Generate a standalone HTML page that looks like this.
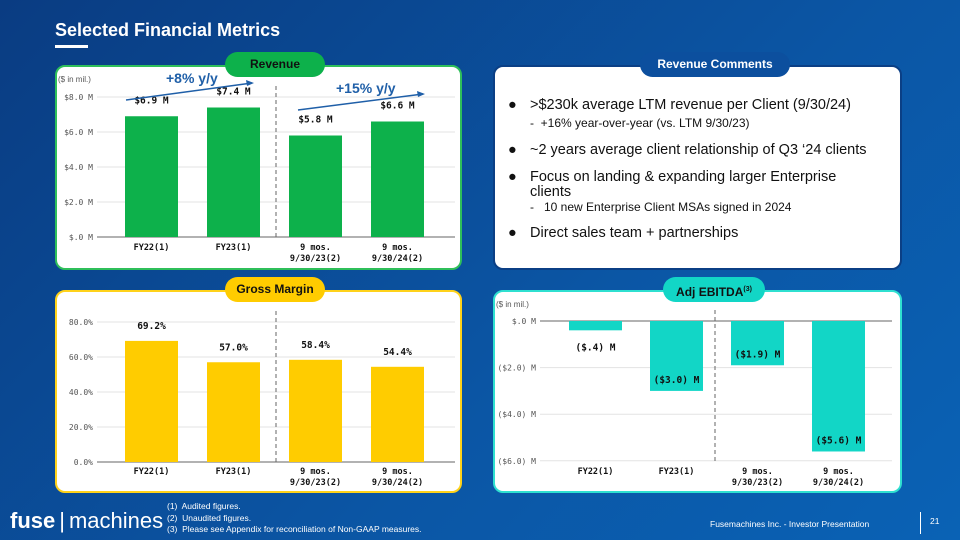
<!DOCTYPE html>
<html><head><meta charset="utf-8">
<style>
*{margin:0;padding:0;box-sizing:border-box}
body{width:960px;height:540px;overflow:hidden;font-family:"Liberation Sans",sans-serif;background:linear-gradient(135deg,#0a3c82 0%,#0b56a5 60%,#0a62b5 100%);position:relative}
.abs{position:absolute}
.panel{position:absolute;background:#fff;border-radius:10px}
.pill{position:absolute;border-radius:13px;font-weight:bold;font-size:12px;text-align:center;line-height:25px;z-index:3}
.mono{font-family:"DejaVu Sans Mono","Liberation Mono",monospace}
.sans{font-family:"Liberation Sans",sans-serif}
.ln{position:absolute;white-space:nowrap;color:#111;z-index:3;line-height:16px}
.big{font-size:14.5px}
.sm{font-size:12px}
</style></head><body>
<div class="abs" style="left:55px;top:20px;color:#fff;font-weight:bold;font-size:18px">Selected Financial Metrics</div>
<div class="abs" style="left:55px;top:45px;width:33px;height:3px;background:#fff"></div>

<div class="panel" style="left:55px;top:65px;width:407px;height:205px;border:2px solid #2fbf5a"></div>
<div class="panel" style="left:493px;top:65px;width:409px;height:205px;border:2px solid #0b3f85"></div>
<div class="panel" style="left:55px;top:290px;width:407px;height:203px;border:2px solid #ffd21a"></div>
<div class="panel" style="left:493px;top:290px;width:409px;height:203px;border:2px solid #2fe0d0"></div>

<div class="pill" style="left:225px;top:52px;width:100px;height:25px;background:#0db14b;color:#111">Revenue</div>
<div class="pill" style="left:640px;top:52px;width:150px;height:25px;background:#0c4f9e;color:#fff">Revenue Comments</div>
<div class="pill" style="left:225px;top:277px;width:100px;height:25px;background:#ffcc00;color:#111">Gross Margin</div>
<div class="pill" style="left:663px;top:277px;width:102px;height:25px;background:#12d6c6;color:#111">Adj EBITDA<sup style="font-size:7px">(3)</sup></div>

<div>
<div class="ln big" style="left:508px;top:97px">●</div><div class="ln big" style="left:530px;top:97px">&gt;$230k average LTM revenue per Client (9/30/24)</div>
<div class="ln sm" style="left:530px;top:115px">- &nbsp;+16% year-over-year (vs. LTM 9/30/23)</div>
<div class="ln big" style="left:508px;top:142px">●</div><div class="ln big" style="left:530px;top:142px">~2 years average client relationship of Q3 ‘24 clients</div>
<div class="ln big" style="left:508px;top:169px">●</div><div class="ln big" style="left:530px;top:169px">Focus on landing &amp; expanding larger Enterprise</div>
<div class="ln big" style="left:530px;top:184px">clients</div>
<div class="ln sm" style="left:530px;top:199px">- &nbsp;&nbsp;10 new Enterprise Client MSAs signed in 2024</div>
<div class="ln big" style="left:508px;top:225px">●</div><div class="ln big" style="left:530px;top:225px">Direct sales team + partnerships</div>
</div>

<svg class="abs" style="left:0;top:0;z-index:2" width="960" height="540" id="charts"></svg>

<div class="abs" style="left:10px;top:508px;color:#fff;font-size:22px;line-height:26px"><b>fuse</b><span style="font-weight:300;margin:0 4px">|</span>machines</div>
<div class="abs" style="left:167px;top:501px;color:#fff;font-size:8.5px;line-height:11.5px">(1)&nbsp; Audited figures.<br>(2)&nbsp; Unaudited figures.<br>(3)&nbsp; Please see Appendix for reconciliation of Non-GAAP measures.</div>
<div class="abs" style="left:710px;top:519px;color:#fff;font-size:8.5px">Fusemachines Inc. - Investor Presentation</div>
<div class="abs" style="left:920px;top:512px;width:1px;height:22px;background:#fff"></div>
<div class="abs" style="left:930px;top:516px;color:#fff;font-size:8.5px">21</div>

<script>
const categories=["FY22(1)","FY23(1)","9 mos.|9/30/23(2)","9 mos.|9/30/24(2)"];
const revenueValues=[6.9,7.4,5.8,6.6];
const revenueLabels=["$6.9 M","$7.4 M","$5.8 M","$6.6 M"];
const revenueTicks=[0,2,4,6,8];
const marginValues=[69.2,57.0,58.4,54.4];
const marginLabels=["69.2%","57.0%","58.4%","54.4%"];
const marginTicks=[0,20,40,60,80];
const ebitdaValues=[-0.4,-3.0,-1.9,-5.6];
const ebitdaLabels=["($.4) M","($3.0) M","($1.9) M","($5.6) M"];
const ebitdaTicks=[0,-2,-4,-6];

const svg=document.getElementById('charts');
const NS='http://www.w3.org/2000/svg';
function mk(tag,attrs,txt,cls){const e=document.createElementNS(NS,tag);for(const k in attrs)e.setAttribute(k,attrs[k]);if(txt!==undefined)e.textContent=txt;if(cls)e.setAttribute('class',cls);svg.appendChild(e);return e;}

function chart(o){
  const y=v=>o.y0-(v-o.vmin)*o.scale;
  o.ticks.forEach(t=>{
    const g=mk('line',{x1:o.gx1,x2:o.gx2,y1:y(t),y2:y(t),stroke:(t===o.base)?'#999':'#e3e3e3','stroke-width':t===o.base?1.5:1});
    
    
    const l=mk('text',{x:o.lx,y:y(t)+3,'text-anchor':'end','font-size':8,fill:'#555'},o.fmt(t),'mono');
    
    
  });
  const d=mk('line',{x1:o.divx,x2:o.divx,y1:o.divy1,y2:o.divy2,stroke:'#666','stroke-dasharray':'4,3','stroke-width':1});
  
  
  o.values.forEach((v,i)=>{
    const cx=o.cx0+i*o.step;
    const top=Math.min(y(v),y(o.base)),h=Math.abs(y(v)-y(o.base));
    const r=mk('rect',{x:cx-26.5,y:top,width:53,height:h,fill:o.color});
    
    
    const t=mk('text',{x:cx,y:o.labelPos(v,y,i),'text-anchor':'middle','font-size':9.5,'font-weight':'bold',fill:'#111'},o.labels[i],'mono');
    
    
    categories[i].split('|').forEach((s,j)=>{
      const c=mk('text',{x:cx,y:o.catY+j*11,'text-anchor':'middle','font-size':8.5,'font-weight':'bold',fill:'#111'},s,'mono');
      
      
    });
  });
}
chart({values:revenueValues,labels:revenueLabels,ticks:revenueTicks,vmin:0,base:0,y0:237,scale:17.5,gx1:97,gx2:455,lx:93,
  fmt:t=>'$'+(t===0?'.0':t.toFixed(1))+' M',divx:276,divy1:86,divy2:240,cx0:151.5,step:82,color:'#0db14b',catY:250,
  labelPos:(v,y,i)=>y(v)-13});
chart({values:marginValues,labels:marginLabels,ticks:marginTicks,vmin:0,base:0,y0:462,scale:1.75,gx1:97,gx2:455,lx:93,
  fmt:t=>t.toFixed(1)+'%',divx:276,divy1:311,divy2:465,cx0:151.5,step:82,color:'#ffcc00',catY:474,
  labelPos:(v,y,i)=>y(v)-12});
chart({values:ebitdaValues,labels:ebitdaLabels,ticks:ebitdaTicks,vmin:0,base:0,y0:321,scale:23.3,gx1:540,gx2:892,lx:536,
  fmt:t=>t===0?'$.0 M':'($'+Math.abs(t).toFixed(1)+') M',divx:715,divy1:310,divy2:462,cx0:595.5,step:81,color:'#12d6c6',catY:474,
  labelPos:(v,y,i)=>i===0?y(v)+20:y(v)-8});

mk('text',{x:58,y:82,'font-size':8,fill:'#555'},'($ in mil.)','sans');
mk('text',{x:496,y:307,'font-size':8,fill:'#555'},'($ in mil.)','sans');
const a1=mk('line',{x1:126,y1:100,x2:252,y2:83,stroke:'#1f5fa8','stroke-width':1.5});

mk('polygon',{points:'254,83 246,80 247,86',fill:'#1f5fa8'});
const t1=mk('text',{x:166,y:83,'font-size':14,'font-weight':'bold',fill:'#1f5fa8'},'+8% y/y','sans');

const a2=mk('line',{x1:298,y1:110,x2:423,y2:94,stroke:'#1f5fa8','stroke-width':1.5});

mk('polygon',{points:'425,94 417,91 418,97',fill:'#1f5fa8'});
const t2=mk('text',{x:336,y:93,'font-size':14,'font-weight':'bold',fill:'#1f5fa8'},'+15% y/y','sans');

</script>
</body></html>
